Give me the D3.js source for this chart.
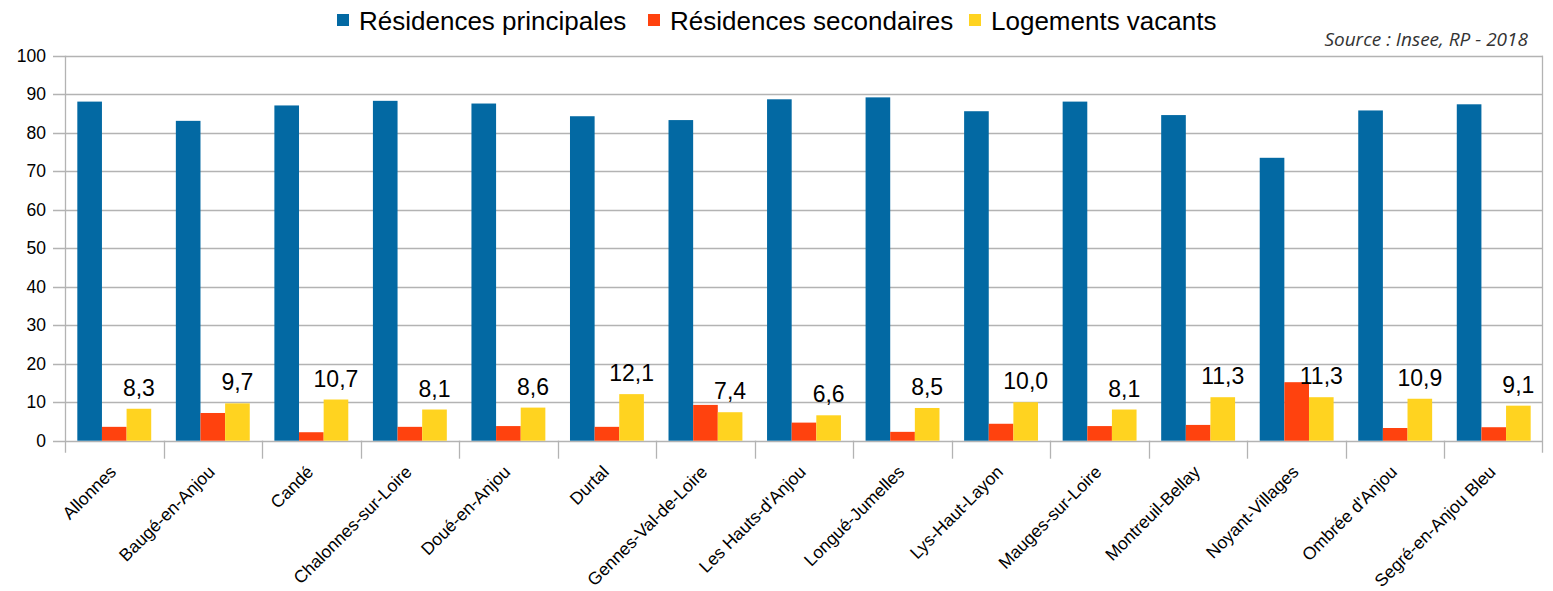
<!DOCTYPE html>
<html>
<head>
<meta charset="utf-8">
<script src="https://cdn.jsdelivr.net/npm/d3@7"></script>
<style>
  body { margin: 0; background: #fff; }
  svg { display: block; font-family: "Liberation Sans", Arial, sans-serif; }
</style>
</head>
<body>
<div id="chart"></div>
<script>
// données (Insee, RP 2018) en %
const communes = ["Allonnes", "Baugé-en-Anjou", "Candé", "Chalonnes-sur-Loire", "Doué-en-Anjou", "Durtal",
  "Gennes-Val-de-Loire", "Les Hauts-d'Anjou", "Longué-Jumelles", "Lys-Haut-Layon", "Mauges-sur-Loire",
  "Montreuil-Bellay", "Noyant-Villages", "Ombrée d'Anjou", "Segré-en-Anjou Bleu"];
const principales = [88.1, 83.1, 87.1, 88.3, 87.6, 84.3, 83.3, 88.7, 89.2, 85.6, 88.1, 84.6, 73.5, 85.8, 87.4];
const secondaires = [3.6, 7.2, 2.2, 3.6, 3.8, 3.6, 9.3, 4.7, 2.3, 4.4, 3.8, 4.1, 15.2, 3.3, 3.5];
const vacants = [8.3, 9.7, 10.7, 8.1, 8.6, 12.1, 7.4, 6.6, 8.5, 10.0, 8.1, 11.3, 11.3, 10.9, 9.1];
const series = ["Résidences principales", "Résidences secondaires", "Logements vacants"];
const couleurs = ["#0369a3", "#ff420e", "#ffd320"];
const yTicks = [0, 10, 20, 30, 40, 50, 60, 70, 80, 90, 100];

const width = 1553, height = 591;
const margin = { top: 56, right: 10, bottom: 150, left: 65 };
const plotRight = 1543;

const svg = d3.select("#chart").append("svg")
  .attr("width", width).attr("height", height);

const x = d3.scaleBand().domain(communes).range([margin.left, plotRight]);
const y = d3.scaleLinear().domain([0, 100]).range([440.7, 55.8]);

// sous-échelle pour les 3 barres d'un groupe
const groupPad = x.step() / 8;
const xs = d3.scaleBand().domain(d3.range(3)).range([0, x.step() - 2 * groupPad]);

// grille horizontale + graduations
svg.append("g")
  .selectAll("line").data(yTicks).join("line")
  .attr("x1", margin.left - 12).attr("x2", plotRight)
  .attr("y1", d => Math.round(y(d)) + 0.5).attr("y2", d => Math.round(y(d)) + 0.5)
  .attr("stroke", "#b3b3b3").attr("stroke-width", 1.3);

svg.append("g")
  .selectAll("text").data(yTicks).join("text")
  .attr("x", 46).attr("y", d => y(d))
  .attr("dy", "0.35em").attr("text-anchor", "end")
  .attr("font-size", 17.5).attr("fill", "#000")
  .text(d => d);

// axe vertical et bord droit
svg.append("line").attr("x1", margin.left + 0.5).attr("x2", margin.left + 0.5)
  .attr("y1", y(100)).attr("y2", y(0) + 12).attr("stroke", "#b3b3b3").attr("stroke-width", 1.3);
svg.append("line").attr("x1", plotRight - 0.5).attr("x2", plotRight - 0.5)
  .attr("y1", y(100)).attr("y2", y(0) + 12).attr("stroke", "#b3b3b3").attr("stroke-width", 1.3);

// graduations des catégories
svg.append("g")
  .selectAll("line").data(communes.slice(1)).join("line")
  .attr("x1", d => Math.round(x(d)) + 0.5).attr("x2", d => Math.round(x(d)) + 0.5)
  .attr("y1", y(0)).attr("y2", y(0) + 18)
  .attr("stroke", "#b3b3b3").attr("stroke-width", 1.3);

// barres
const valeurs = [principales, secondaires, vacants];
const groupes = svg.append("g").selectAll("g").data(communes).join("g")
  .attr("transform", d => `translate(${x(d) + groupPad},0)`);

groupes.selectAll("rect")
  .data((d, i) => valeurs.map((s, k) => ({ k, v: s[i] })))
  .join("rect")
  .attr("x", d => xs(d.k))
  .attr("width", xs.bandwidth())
  .attr("y", d => y(d.v))
  .attr("height", d => y(0) - y(d.v))
  .attr("fill", d => couleurs[d.k]);

// étiquettes des logements vacants
groupes.append("text")
  .attr("x", xs(2) + xs.bandwidth() / 2)
  .attr("y", (d, i) => y(vacants[i]) - 13)
  .attr("text-anchor", "middle")
  .attr("font-size", 23).attr("fill", "#000")
  .text((d, i) => vacants[i].toFixed(1).replace(".", ","));

// libellés des communes
svg.append("g")
  .selectAll("text").data(communes).join("text")
  .attr("transform", d => `translate(${x(d) + x.bandwidth() / 2 + 3},473) rotate(-45)`)
  .attr("text-anchor", "end")
  .attr("font-size", 17.5).attr("fill", "#000")
  .text(d => d);

// légende
const legX = [337, 648, 969];
const leg = svg.append("g").selectAll("g").data(series).join("g")
  .attr("transform", (d, i) => `translate(${legX[i]},0)`);
leg.append("rect").attr("x", 0).attr("y", 14).attr("width", 12).attr("height", 12)
  .attr("fill", (d, i) => couleurs[i]);
leg.append("text").attr("x", 22).attr("y", 30)
  .attr("font-size", 26).attr("fill", "#000")
  .text(d => d);

// source
svg.append("text")
  .attr("x", 1528).attr("y", 46)
  .attr("text-anchor", "end")
  .attr("font-family", "'Open Sans', sans-serif")
  .attr("font-style", "italic").attr("font-size", 19).attr("fill", "#333")
  .text("Source : Insee, RP - 2018");
</script>
</body>
</html>
